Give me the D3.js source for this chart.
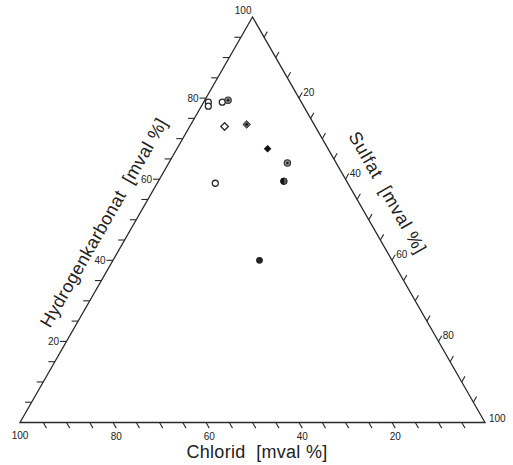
<!DOCTYPE html>
<html>
<head>
<meta charset="utf-8">
<script src="https://cdn.jsdelivr.net/npm/d3@7"></script>
<style>
  body { margin: 0; background: #fff; }
  text { font-family: "Liberation Sans", Arial, sans-serif; fill: #222; white-space: pre; }
</style>
</head>
<body>
<div id="chart"></div>
<script>
// samples in mval %
const chlorid          = [20, 20.5, 17, 15.5, 19.5, 14.5, 13, 10.5, 13.5, 28.5, 28.5];
const hydrogenkarbonat = [79, 78, 79, 79.5, 73, 73.5, 67.5, 64, 59.5, 59, 40];
const sulfat           = [1, 1.5, 4, 5, 7.5, 12, 19.5, 25.5, 27, 12.5, 31.5];
const markers = ["open", "open", "open", "dot", "openDiamond", "dotDiamond",
                 "filledDiamond", "dot", "half", "open", "filled"];

const minorTicks = d3.range(5, 100, 5);
const sideLabels = [20, 40, 60, 80];
const bottomLabels = [80, 60, 40, 20];

const W = 513, H = 465;
const svg = d3.select("#chart").append("svg")
  .attr("width", W).attr("height", H);

// triangle corners: Chlorid 100 (left), Hydrogenkarbonat 100 (top), Sulfat 100 (right)
const L = [20, 422.5], T = [252.5, 17], R = [485, 422.5];
const frac = d3.scaleLinear().domain([0, 100]).range([0, 1]);

function pos(cl, hc, so) {
  const a = frac(cl), b = frac(hc), c = frac(so);
  return [L[0] * a + T[0] * b + R[0] * c, L[1] * a + T[1] * b + R[1] * c];
}

const ink = "#2a2a2a";
svg.append("path")
  .attr("d", d3.line()([L, T, R, L]) + "Z")
  .attr("fill", "none").attr("stroke", ink).attr("stroke-width", 1.3)
  .attr("stroke-linejoin", "miter");

// unit directions along the sides
function unit(p, q) {
  const dx = q[0] - p[0], dy = q[1] - p[1], n = Math.hypot(dx, dy);
  return [dx / n, dy / n];
}
const dRight = unit(T, R);   // parallel to right side, going down
const dLeft = unit(L, T);    // parallel to left side, going up
const tk = 6.5;
const fs = 10;

const ticks = svg.append("g").attr("stroke", ink).attr("stroke-width", 1.1);

// Hydrogenkarbonat (left side) - horizontal ticks
minorTicks.forEach(v => {
  const p = pos(100 - v, v, 0);
  ticks.append("line").attr("x1", p[0]).attr("y1", p[1])
    .attr("x2", p[0] - tk).attr("y2", p[1]);
});
sideLabels.forEach(v => {
  const p = pos(100 - v, v, 0);
  svg.append("text").attr("x", p[0] - tk - 1).attr("y", p[1])
    .attr("dy", "0.35em").attr("text-anchor", "end")
    .attr("font-size", fs).text(v);
});

// Chlorid (bottom) - ticks parallel to the right side
minorTicks.forEach(v => {
  const p = pos(v, 0, 100 - v);
  ticks.append("line").attr("x1", p[0]).attr("y1", p[1])
    .attr("x2", p[0] + dRight[0] * tk).attr("y2", p[1] + dRight[1] * tk);
});
bottomLabels.forEach(v => {
  const p = pos(v, 0, 100 - v);
  svg.append("text").attr("x", p[0] + dRight[0] * tk).attr("y", p[1] + 17)
    .attr("text-anchor", "middle").attr("font-size", fs).text(v);
});

// Sulfat (right side) - ticks parallel to the left side
minorTicks.forEach(v => {
  const p = pos(0, 100 - v, v);
  ticks.append("line").attr("x1", p[0]).attr("y1", p[1])
    .attr("x2", p[0] + dLeft[0] * tk).attr("y2", p[1] + dLeft[1] * tk);
});
sideLabels.forEach(v => {
  const p = pos(0, 100 - v, v);
  svg.append("text").attr("x", p[0] + dLeft[0] * tk + 1).attr("y", p[1] + dLeft[1] * tk)
    .attr("dy", "0.35em").attr("font-size", fs).text(v);
});

// corner labels
svg.append("text").attr("x", T[0] - 1).attr("y", T[1] - 3)
  .attr("text-anchor", "end").attr("font-size", fs).text(100);
svg.append("text").attr("x", L[0]).attr("y", L[1] + 16)
  .attr("text-anchor", "middle").attr("font-size", fs).text(100);
svg.append("text").attr("x", R[0] + 4).attr("y", R[1] - 4)
  .attr("dy", "0.35em").attr("font-size", fs).text(100);

// axis titles
function sideTitle(p, q, t, off, label, angle, spacing) {
  const m = [p[0] + (q[0] - p[0]) * t, p[1] + (q[1] - p[1]) * t];
  const u = unit(p, q);
  const n = [u[1], -u[0]];
  svg.append("text")
    .attr("transform", `translate(${m[0] + n[0] * off},${m[1] + n[1] * off}) rotate(${angle})`)
    .attr("text-anchor", "middle").attr("dy", "0.35em")
    .attr("font-size", 18).attr("letter-spacing", spacing)
    .text(label);
}
sideTitle(L, T, 0.46, 27, "Hydrogenkarbonat  [mval %]", -60.2, 0.4);
sideTitle(T, R, 0.47, 30, "Sulfat  [mval %]", 60.2, 0.8);
svg.append("text").attr("x", 257).attr("y", 458)
  .attr("text-anchor", "middle").attr("font-size", 18).attr("letter-spacing", 0.3)
  .text("Chlorid  [mval %]");

// samples
const pts = svg.append("g");
chlorid.forEach((cl, i) => {
  const [x, y] = pos(cl, hydrogenkarbonat[i], sulfat[i]);
  const m = markers[i];
  const g = pts.append("g").attr("transform", `translate(${x},${y})`);
  const diamond = "M0,-3.8L3.8,0L0,3.8L-3.8,0Z";
  if (m === "open") {
    g.append("circle").attr("r", 3).attr("fill", "#fff").attr("stroke", ink).attr("stroke-width", 1.3);
  } else if (m === "filled") {
    g.append("circle").attr("r", 3.4).attr("fill", "#222");
  } else if (m === "dot") {
    g.append("circle").attr("r", 3.2).attr("fill", "#8a8a8a").attr("stroke", "#333").attr("stroke-width", 1.1);
    g.append("circle").attr("r", 1.3).attr("fill", "#222");
  } else if (m === "half") {
    g.append("circle").attr("r", 3.3).attr("fill", "#555").attr("stroke", "#222").attr("stroke-width", 1);
    g.append("path").attr("d", d3.arc()({innerRadius: 0, outerRadius: 3.3, startAngle: Math.PI, endAngle: 2 * Math.PI}))
      .attr("fill", "#111");
  } else if (m === "openDiamond") {
    g.append("path").attr("d", diamond).attr("fill", "#fff").attr("stroke", ink).attr("stroke-width", 1.3);
  } else if (m === "dotDiamond") {
    g.append("path").attr("d", diamond).attr("fill", "#666").attr("stroke", "#333").attr("stroke-width", 1);
    g.append("circle").attr("r", 1.3).attr("fill", "#111");
  } else if (m === "filledDiamond") {
    g.append("path").attr("d", diamond).attr("fill", "#111");
  }
});
</script>
</body>
</html>
